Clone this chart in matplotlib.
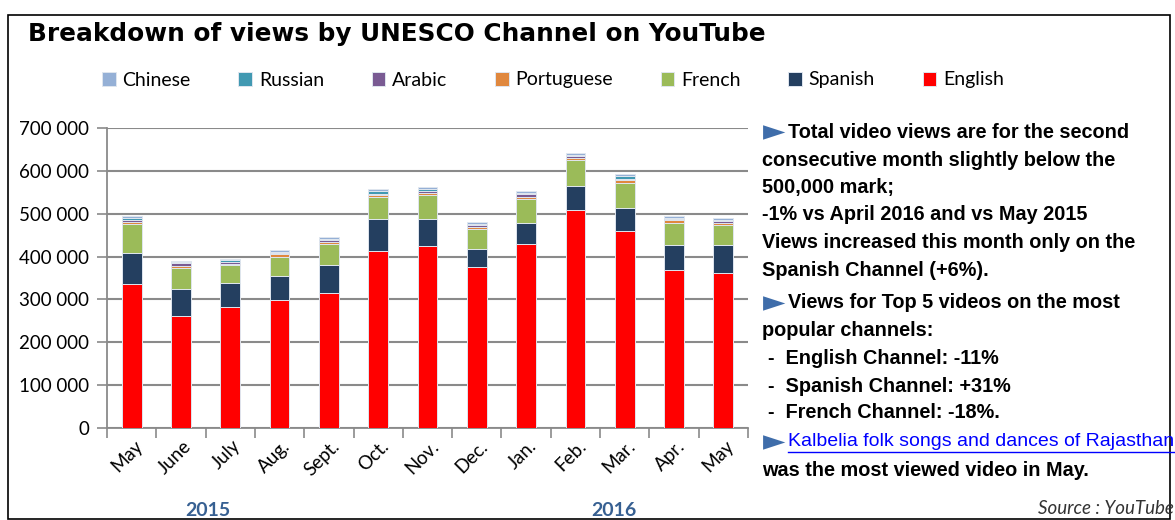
import matplotlib.pyplot as plt
import matplotlib.patches as mpatches
from matplotlib.lines import Line2D
from matplotlib.ticker import FuncFormatter
import matplotlib.transforms as mtransforms
import numpy as np

# monthly views by channel, May 2015 .. May 2016
months = ["May", "June", "July", "Aug.", "Sept.", "Oct.", "Nov.", "Dec.",
          "Jan.", "Feb.", "Mar.", "Apr.", "May"]
english = [335000, 261000, 282000, 298000, 315000, 412000, 425000, 375000,
           429000, 509000, 459000, 369000, 362000]
spanish = [73000, 63000, 56000, 57000, 66000, 76000, 63000, 43000,
           49000, 56000, 55000, 59000, 64000]
french = [67000, 49000, 42000, 43000, 48000, 50000, 55000, 46000,
          57000, 60000, 58000, 50000, 47000]
portuguese = [6000, 5000, 3000, 7000, 6000, 6000, 5000, 5000,
              5000, 6000, 7000, 7000, 6000]
arabic = [5000, 7000, 5000, 3000, 3000, 3000, 6000, 4000,
          5000, 3000, 3000, 3000, 3000]
russian = [4000, 2000, 4000, 3000, 4000, 7000, 3000, 3000,
           4000, 3000, 6000, 2000, 4000]
chinese = [4000, 2000, 3000, 4000, 3000, 4000, 5000, 5000,
           4000, 5000, 5000, 5000, 3000]

series = [("English", english, "#FF0000"),
          ("Spanish", spanish, "#243F60"),
          ("French", french, "#9BBB59"),
          ("Portuguese", portuguese, "#E0883E"),
          ("Arabic", arabic, "#7A5B93"),
          ("Russian", russian, "#4199B2"),
          ("Chinese", chinese, "#95B0D6")]

W, H = 1175, 520
fig = plt.figure(figsize=(W / 100, H / 100), dpi=100)


def fx(px):
    return px / W


def fy(py):
    return 1 - py / H


ax = fig.add_axes([fx(107), fy(428), (748 - 107) / W, 300 / H])

x = np.arange(len(months))
bottom = np.zeros(len(months))
handles = []
for name, vals, col in series:
    b = ax.bar(x, vals, 0.4, bottom=bottom, color=col, edgecolor="#dfe6ef",
               linewidth=0.7, label=name, zorder=3)
    bottom += np.array(vals)
    handles.append(b)

ax.set_xlim(-0.5, len(months) - 0.5)
ax.set_ylim(0, 700000)
ax.set_yticks(np.arange(0, 700001, 100000))
ax.yaxis.set_major_formatter(FuncFormatter(lambda v, p: f"{v:,.0f}".replace(",", " ")))
ax.grid(axis="y", color="#8a8a8a", linewidth=1.5, zorder=0)

for s in ["top", "right"]:
    ax.spines[s].set_visible(False)
for s in ["left", "bottom"]:
    ax.spines[s].set_color("#8a8a8a")
    ax.spines[s].set_linewidth(1.3)

ax.set_xticks(np.arange(-0.5, len(months), 1))
ax.set_xticklabels([])
ax.set_xticks(x, minor=True)
ax.set_xticklabels(months, minor=True, rotation=45, ha="right", va="center",
                   rotation_mode="anchor", fontsize=13.5, family="Lato")
ax.tick_params(axis="x", which="major", length=7, color="#8a8a8a", width=1.2)
ax.tick_params(axis="x", which="minor", length=0, pad=11)
ax.tick_params(axis="y", length=7, color="#8a8a8a", width=1.2, labelsize=13.5,
               pad=6)
for lab in ax.get_yticklabels():
    lab.set_family("Lato")
shift = mtransforms.ScaledTranslation(8 / 100, 0, fig.dpi_scale_trans)
for lab in ax.xaxis.get_minorticklabels():
    lab.set_transform(lab.get_transform() + shift)

# legend, reverse stacking order
fig.legend(handles=handles[::-1], loc="center", bbox_to_anchor=(fx(553), fy(80)),
           ncol=7, frameon=False, prop={"family": "Lato", "size": 14},
           handlelength=0.7, handleheight=0.7, handletextpad=0.35,
           columnspacing=2.45)

# frame
fig.add_artist(mpatches.Rectangle((fx(8), fy(519)), (1170 - 8) / W, (519 - 15) / H,
                                  transform=fig.transFigure, fill=False,
                                  edgecolor="black", linewidth=1.2))

title = fig.text(fx(28), fy(34), "Breakdown of views by UNESCO Channel on YouTube",
                 fontsize=19, weight="heavy", family="DejaVu Sans", va="center")

fig.text(fx(208), fy(511), "2015", fontsize=14, weight="bold", color="#376092",
         family="Lato", ha="center", va="center")
fig.text(fx(614), fy(511), "2016", fontsize=14, weight="bold", color="#376092",
         family="Lato", ha="center", va="center")

fig.text(fx(1174), fy(509), "Source : YouTube", fontsize=13.5, style="italic",
         family="Lato", color="#333333", ha="right", va="center")

# notes on the right
narrow = ["Liberation Sans Narrow", "Liberation Sans", "DejaVu Sans"]
notes = [
    (788, 132, "Total video views are for the second", True),
    (762, 161, "consecutive month slightly below the", False),
    (762, 188, "500,000 mark;", False),
    (762, 215, "-1% vs April 2016 and vs May 2015", False),
    (762, 243, "Views increased this month only on the", False),
    (762, 270, "Spanish Channel (+6%).", False),
    (788, 303, "Views for Top 5 videos on the most", True),
    (762, 330, "popular channels:", False),
    (768, 358, "-  English Channel: -11%", False),
    (768, 386, "-  Spanish Channel: +31%", False),
    (768, 413, "-  French Channel: -18%.", False),
    (762, 470, "was the most viewed video in May.", False),
]
note_texts = []
for px, py, s, arrow in notes:
    t = fig.text(fx(px), fy(py), s, fontsize=15, weight="bold", family=narrow,
                 va="center")
    note_texts.append(t)
    if arrow:
        fig.text(fx(763), fy(py), "\u25BA", fontsize=21, color="#3F6DAA",
                 family="DejaVu Sans", va="center")
fig.text(fx(763), fy(442), "\u25BA", fontsize=21, color="#3F6DAA",
         family="DejaVu Sans", va="center")
link = fig.text(fx(788), fy(442), "Kalbelia folk songs and dances of Rajasthan",
                fontsize=15, family=narrow, color="#0000FF", va="center")

# fit font sizes to the widths seen in the picture
fig.canvas.draw()
r = fig.canvas.get_renderer()
w = title.get_window_extent(r).width
title.set_fontsize(title.get_fontsize() * 737 / w)
w = note_texts[0].get_window_extent(r).width
k = 342 / w
for t in note_texts:
    t.set_fontsize(t.get_fontsize() * k)
w = link.get_window_extent(r).width
link.set_fontsize(link.get_fontsize() * 384 / w)
fig.canvas.draw()
bb = link.get_window_extent(r)
fig.add_artist(Line2D([fx(bb.x0), fx(bb.x1)], [fy(452), fy(452)],
                      transform=fig.transFigure, color="#0000FF", linewidth=1))

fig.savefig("out.png", dpi=100)
